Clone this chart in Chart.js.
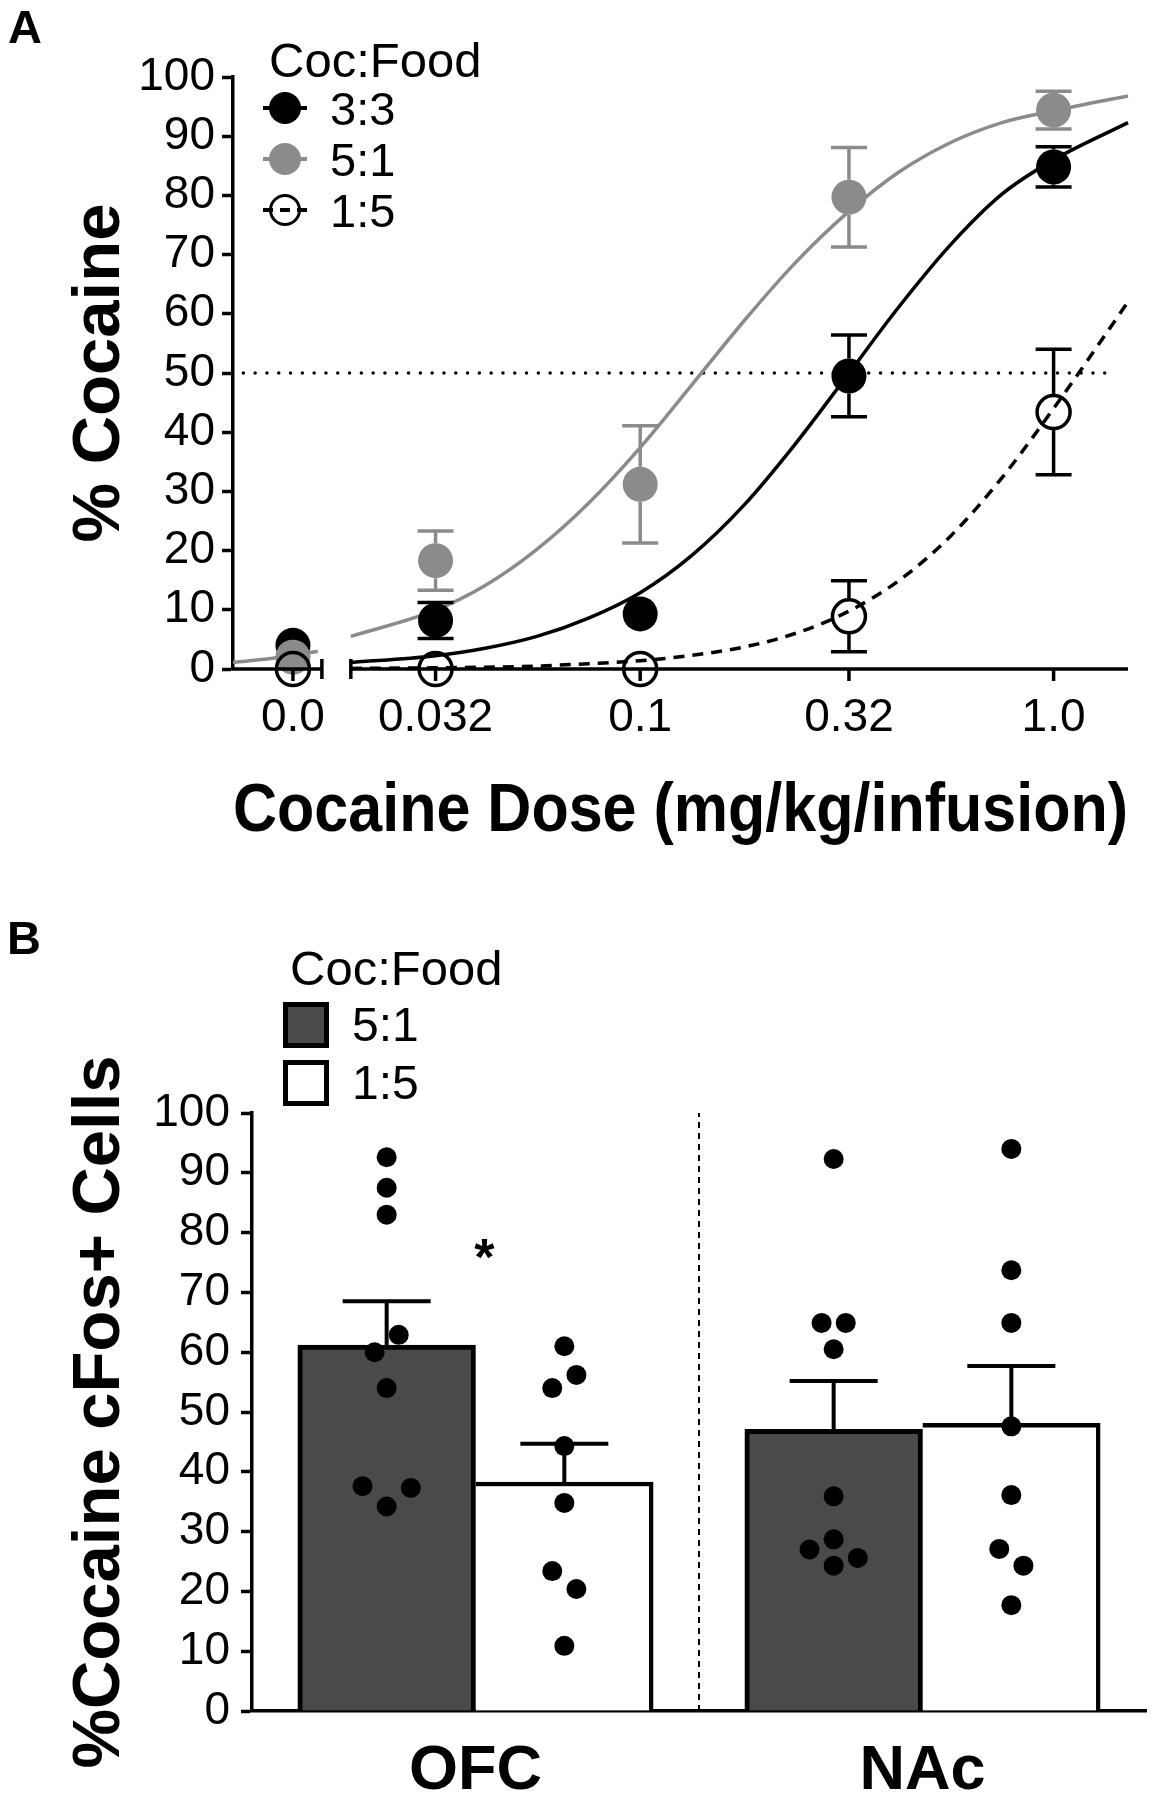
<!DOCTYPE html>
<html><head><meta charset="utf-8">
<script src="https://cdn.jsdelivr.net/npm/chart.js@4.4.1/dist/chart.umd.min.js"></script>
<style>
html,body{margin:0;padding:0;background:#fff;}
#wrap{position:relative;width:1156px;height:1800px;overflow:hidden;font-family:"Liberation Sans",Arial,sans-serif;background:#fff;}
canvas{position:absolute;left:0;}
#cA{top:0;} #cB{top:880px;}
.t{position:absolute;white-space:nowrap;color:#000;}
</style></head><body><div id="wrap">
<canvas id="cA" width="1156" height="880"></canvas>
<canvas id="cB" width="1156" height="920"></canvas>
</div>
<script>
// ---------- Panel A data ----------
const doseLabels = ['0.0', '0.032', '0.1', '0.32', '1.0'];
const dosePos = [-1.84, -1.495, -1.0, -0.495, 0.0];      // log10 dose (0.0 sits on the broken segment)
const axisBreak = [-1.77, -1.70];
const xRangeA = [-1.985, 0.18];

const mean33 = [4.0, 8.2, 9.3, 49.5, 84.8];
const sem33  = [0, 3.05, 0, 6.9, 3.4];
const mean51 = [2.0, 18.3, 31.2, 79.7, 94.4];
const sem51  = [0, 5.0, 9.9, 8.4, 3.2];
const mean15 = [0, 0, 0, 8.9, 43.4];
const sem15  = [0, 0, 0, 6.0, 10.6];

// fitted curves
const fitDose0 = [-1.985, -1.88, -1.78];
const fit51_0  = [1.1, 1.9, 3.0];
const fitDose  = [-1.70, -1.5, -1.375, -1.25, -1.125, -1.0, -0.875, -0.75, -0.625, -0.5, -0.375, -0.25, -0.125, 0, 0.18];
const fit51    = [5.5, 9.8, 14.1, 20.2, 28, 37.4, 48, 58.7, 68.6, 77, 83.9, 88.9, 92.3, 94.3, 96.8];
const fit33    = [1.1, 2.2, 3.5, 5.5, 8.6, 12.9, 19.2, 27.6, 38, 49.5, 61.1, 71.6, 80.2, 86, 92.3];
const fit15    = [0.1, 0.2, 0.3, 0.5, 0.9, 1.4, 2.3, 3.7, 6.0, 9.6, 14.9, 22.4, 32.3, 44, 62];
const refLineX = [-1.96, 0.15];
const refLineY = 50;

// ---------- Panel B data ----------
const regions = ['OFC', 'NAc'];
const bar51 = [61.2, 47.1];
const semB51 = [7.3, 8.1];
const bar15 = [38.3, 48.1];
const semB15 = [6.4, 9.6];
const ofc51 = [92.6, 87.5, 83.0, 62.9, 60.0, 54.0, 37.6, 37.3, 34.2];
const ofc51Jit = [0, 0, 0, 1, -1, 0, -2, 2, 0];
const ofc15 = [61.0, 56.2, 54.0, 44.3, 34.8, 23.4, 20.4, 10.9];
const ofc15Jit = [0, 1, -1, 0, 0, -1, 1, 0];
const nac51 = [92.3, 64.9, 64.9, 60.5, 35.9, 28.7, 27.0, 25.6, 24.3];
const nac51Jit = [0, -1, 1, 0, 0, 0, -2, 2, 0];
const nac15 = [94.0, 73.7, 64.9, 47.6, 36.1, 27.1, 24.3, 17.7];
const nac15Jit = [0, 0, 0, 0, 0, -1, 1, 0];
const sigText = ['*'];
const sigRegion = [0];
const sigValue = [77.8];

// ---------- styles ----------
const GRAY = '#8b8b8b';
const DARK = '#4a4a4a';
const FONT = '"Liberation Sans", Arial, Helvetica, sans-serif';
Chart.defaults.font.family = FONT;
Chart.defaults.color = '#000';
const R = 17.5, CAP = 18, LW = 3.5;

// ---------- HTML text / legends ----------
const wrap = document.getElementById('wrap');
function addText(txt, x, baseline, size, weight) {
  const d = document.createElement('div');
  d.className = 't';
  d.textContent = txt;
  d.style.left = x + 'px';
  d.style.top = (baseline - 0.8465 * size) + 'px';
  d.style.font = `${weight} ${size}px ${FONT}`;
  d.style.lineHeight = size + 'px';
  wrap.appendChild(d);
}
function addMarker(cx, cy, fill, lineBg, open) {
  const box = document.createElement('div');
  box.style.cssText = `position:absolute;left:${cx - 22}px;top:${cy - 16}px;width:44px;height:32px;`;
  const ln = document.createElement('div');
  ln.style.cssText = `position:absolute;left:0;top:14.25px;width:44px;height:3.5px;background:${lineBg};`;
  const c = document.createElement('div');
  c.style.cssText = `position:absolute;left:6px;top:0;width:32px;height:32px;border-radius:50%;box-sizing:border-box;` +
    (open ? 'background:transparent;border:3.5px solid #000;' : `background:${fill};`);
  box.appendChild(ln); box.appendChild(c);
  wrap.appendChild(box);
}
function addSquare(x, y, fill) {
  const s = document.createElement('div');
  s.style.cssText = `position:absolute;left:${x}px;top:${y}px;width:46px;height:46px;box-sizing:border-box;border:5px solid #000;background:${fill};`;
  wrap.appendChild(s);
}
addText('A', 8, 43, 47, 'bold');
addText('B', 7, 954, 47, 'bold');
addText('Coc:Food', 269, 77, 49, 'normal');
addMarker(285, 108, '#000', '#000', false);
addMarker(285, 159, GRAY, GRAY, false);
addMarker(285, 210, '#000', 'repeating-linear-gradient(90deg,#000 0 10px,transparent 10px 17px)', true);
addText('3:3', 330, 125, 47, 'normal');
addText('5:1', 330, 176, 47, 'normal');
addText('1:5', 330, 227, 47, 'normal');
addText('Coc:Food', 290, 985, 49, 'normal');
addSquare(283, 1002, DARK);
addSquare(283, 1060, '#fff');
addText('5:1', 352, 1042, 48, 'normal');
addText('1:5', 352, 1100, 48, 'normal');

// ---------- Panel A chart ----------
const pts = (xs, ys) => xs.map((x, i) => ({x, y: ys[i]}));
const grayCurve = pts(fitDose0, fit51_0)
  .concat([{x: (axisBreak[0] + axisBreak[1]) / 2, y: null}])
  .concat(pts(fitDose, fit51));

const panelAPlugin = {
  id: 'panelA',
  afterDatasetsDraw(chart) {
    const {ctx, scales: {x, y}, chartArea} = chart;
    ctx.save();
    ctx.lineWidth = LW; ctx.lineCap = 'butt';
    [[mean33, sem33, '#000'], [mean51, sem51, GRAY], [mean15, sem15, '#000']].forEach(([m, s, c]) => {
      ctx.strokeStyle = c;
      m.forEach((v, i) => {
        if (!s[i]) return;
        const px = x.getPixelForValue(dosePos[i]);
        const pm = y.getPixelForValue(v);
        const pt = y.getPixelForValue(v + s[i]);
        const pb = y.getPixelForValue(Math.max(0, v - s[i]));
        ctx.beginPath();
        if (pm - pt > R) { ctx.moveTo(px, pm - R); ctx.lineTo(px, pt); ctx.moveTo(px - CAP, pt); ctx.lineTo(px + CAP, pt); }
        if (pb - pm > R) { ctx.moveTo(px, pm + R); ctx.lineTo(px, pb); ctx.moveTo(px - CAP, pb); ctx.lineTo(px + CAP, pb); }
        ctx.stroke();
      });
    });
    // broken x axis
    const y0 = y.getPixelForValue(0);
    const b1 = x.getPixelForValue(axisBreak[0]);
    const b2 = x.getPixelForValue(axisBreak[1]);
    ctx.strokeStyle = '#000';
    ctx.beginPath();
    ctx.moveTo(chartArea.left - LW / 2, y0); ctx.lineTo(b1, y0);
    ctx.moveTo(b2, y0); ctx.lineTo(chartArea.right, y0);
    ctx.moveTo(b1, y0 - 10); ctx.lineTo(b1, y0 + 10);
    ctx.moveTo(b2, y0 - 10); ctx.lineTo(b2, y0 + 10);
    dosePos.forEach(v => { const px = x.getPixelForValue(v); ctx.moveTo(px, y0); ctx.lineTo(px, y0 + 12); });
    ctx.stroke();
    ctx.restore();
  }
};

new Chart(document.getElementById('cA'), {
  type: 'line',
  data: { datasets: [
    {label: 'ref', data: [{x: refLineX[0], y: refLineY}, {x: refLineX[1], y: refLineY}], borderColor: '#000', borderWidth: 3.5,
     borderDash: [0, 11.8], borderCapStyle: 'round', pointRadius: 0, order: 7, clip: false},
    {label: 'fit 5:1', data: grayCurve, borderColor: GRAY, borderWidth: LW, pointRadius: 0, cubicInterpolationMode: 'monotone', spanGaps: false, order: 6, clip: false},
    {label: 'fit 3:3', data: pts(fitDose, fit33), borderColor: '#000', borderWidth: LW, pointRadius: 0, cubicInterpolationMode: 'monotone', order: 5, clip: false},
    {label: 'fit 1:5', data: pts(fitDose, fit15), borderColor: '#000', borderWidth: LW, borderDash: [11, 8], pointRadius: 0, cubicInterpolationMode: 'monotone', order: 4, clip: false},
    {label: '3:3', data: pts(dosePos, mean33), showLine: false, pointRadius: R, pointBackgroundColor: '#000', pointBorderColor: '#000', pointBorderWidth: 0, order: 3, clip: false},
    {label: '5:1', data: pts(dosePos, mean51), showLine: false, pointRadius: R, pointBackgroundColor: GRAY, pointBorderColor: GRAY, pointBorderWidth: 0, order: 2, clip: false},
    {label: '1:5', data: pts(dosePos, mean15), showLine: false, pointRadius: 16.5, pointBackgroundColor: 'rgba(0,0,0,0)', pointBorderColor: '#000', pointBorderWidth: LW, order: 1, clip: false}
  ]},
  options: {
    responsive: false, animation: false, devicePixelRatio: 1,
    layout: {padding: {top: 77, left: 0, right: 28, bottom: 27}},
    plugins: {legend: {display: false}, tooltip: {enabled: false}},
    scales: {
      x: {type: 'linear', min: xRangeA[0], max: xRangeA[1], offset: false,
        afterBuildTicks: s => { s.ticks = dosePos.map(v => ({value: v})); },
        afterFit: s => { s.height = 184; },
        grid: {display: false, drawTicks: false}, border: {display: false},
        ticks: {autoSkip: false, maxRotation: 0, minRotation: 0, padding: 22, font: {size: 46}, color: '#000',
          callback: (v, i) => doseLabels[i]},
        title: {display: true, text: 'Cocaine Dose (mg/kg/infusion)', font: {size: 68, weight: 'bold'}, color: '#000', padding: {top: 0, bottom: 0}}},
      y: {type: 'linear', min: 0, max: 100,
        afterFit: s => { s.width = 233; },
        grid: {display: true, drawOnChartArea: false, drawTicks: true, tickLength: 11, tickWidth: LW, tickColor: '#000'},
        border: {display: true, width: LW, color: '#000'},
        ticks: {stepSize: 10, autoSkip: false, padding: 7, font: {size: 46}, color: '#000'},
        title: {display: true, text: '% Cocaine', font: {size: 67, weight: 'bold'}, color: '#000', padding: {top: 60, bottom: 0}}}
    }
  },
  plugins: [panelAPlugin]
});

// ---------- Panel B chart ----------
const BAR_OFF = 0.19875;          // half of a bar, in category units
const JIT = 0.027;
const barPts = (vals, side) => vals.map((v, i) => ({x: i + side * BAR_OFF, y: v}));
const dotGroups = [[ofc51, ofc51Jit, 0, -1], [ofc15, ofc15Jit, 0, 1], [nac51, nac51Jit, 1, -1], [nac15, nac15Jit, 1, 1]];
const dots = dotGroups.flatMap(([vals, jit, cat, side]) => vals.map((v, i) => ({x: cat + side * BAR_OFF + jit[i] * JIT, y: v})));

const panelBPlugin = {
  id: 'panelB',
  afterDatasetDraw(chart, args) {
    if (args.index !== 0) return;   // 5:1 bars are the last bars drawn
    const {ctx, scales: {y}} = chart;
    ctx.save(); ctx.strokeStyle = '#000'; ctx.lineWidth = 4; ctx.lineCap = 'butt';
    [[bar51, semB51], [bar15, semB15]].forEach(([m, s], d) => {
      const meta = chart.getDatasetMeta(d);
      m.forEach((v, i) => {
        const el = meta.data[i];
        const pt = y.getPixelForValue(v + s[i]);
        ctx.beginPath();
        ctx.moveTo(el.x, el.y); ctx.lineTo(el.x, pt);
        ctx.moveTo(el.x - 44, pt); ctx.lineTo(el.x + 44, pt);
        ctx.stroke();
      });
    });
    ctx.restore();
  },
  afterDatasetsDraw(chart) {
    const {ctx, scales: {x, y}} = chart;
    ctx.save();
    ctx.fillStyle = '#000';
    ctx.font = `bold 52px ${FONT}`;
    ctx.textAlign = 'center'; ctx.textBaseline = 'alphabetic';
    sigText.forEach((t, i) => {
      ctx.fillText(t, x.getPixelForValue(sigRegion[i] + 0.02), y.getPixelForValue(sigValue[i]) + 0.57 * 52);
    });
    ctx.restore();
  }
};

new Chart(document.getElementById('cB'), {
  type: 'bar',
  data: {
    datasets: [
      {type: 'bar', label: '5:1', data: barPts(bar51, -1), backgroundColor: DARK, borderColor: '#000', borderWidth: 5, borderSkipped: 'bottom',
       grouped: false, categoryPercentage: 1, barPercentage: 1, order: 2},
      {type: 'bar', label: '1:5', data: barPts(bar15, 1), backgroundColor: '#fff', borderColor: '#000', borderWidth: {top: 4.5, right: 4.5, bottom: 0, left: 0}, borderSkipped: 'bottom',
       grouped: false, categoryPercentage: 1, barPercentage: 1, order: 3},
      {type: 'scatter', label: 'animals', data: dots, pointRadius: 10, pointBackgroundColor: '#000', pointBorderWidth: 0, order: 1, clip: false},
      {type: 'line', label: 'sep', data: [{x: 0.5, y: 0}, {x: 0.5, y: 100}], borderColor: '#000', borderWidth: 2, borderDash: [6, 5], pointRadius: 0, order: 4, clip: false}
    ]
  },
  options: {
    responsive: false, animation: false, devicePixelRatio: 1,
    layout: {padding: {top: 233, left: 0, right: 8, bottom: 0}},
    plugins: {legend: {display: false}, tooltip: {enabled: false}},
    scales: {
      x: {type: 'linear', min: -0.5, max: 1.5, offset: false, afterFit: s => { s.height = 89; },
        afterBuildTicks: s => { s.ticks = regions.map((r, i) => ({value: i})); },
        grid: {display: false, drawTicks: false, offset: false}, border: {display: true, width: LW, color: '#000'},
        ticks: {padding: 23, font: {size: 63, weight: 'bold'}, color: '#000', maxRotation: 0, minRotation: 0, autoSkip: false,
          callback: (v, i) => regions[i]}},
      y: {type: 'linear', min: 0, max: 100,
        afterFit: s => { s.width = 252; },
        grid: {display: true, drawOnChartArea: false, drawTicks: true, tickLength: 11, tickWidth: LW, tickColor: '#000'},
        border: {display: true, width: LW, color: '#000'},
        ticks: {stepSize: 10, autoSkip: false, padding: 11, font: {size: 46}, color: '#000'},
        title: {display: true, text: '%Cocaine cFos+ Cells', font: {size: 67, weight: 'bold'}, color: '#000', padding: {top: 60, bottom: 0}}}
    }
  },
  plugins: [panelBPlugin]
});
</script></body></html>
